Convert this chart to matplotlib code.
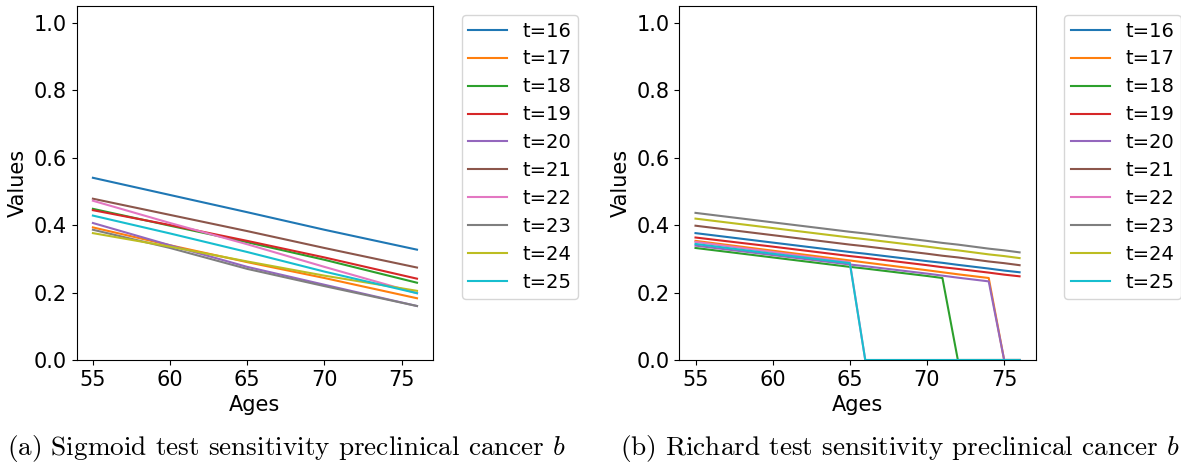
import matplotlib
matplotlib.use("Agg")
import matplotlib.pyplot as plt

plt.rcParams["mathtext.fontset"] = "cm"

# Series labels (screening time t)
t_labels = ["t=16", "t=17", "t=18", "t=19", "t=20",
            "t=21", "t=22", "t=23", "t=24", "t=25"]

# (a) Sigmoid sensitivity, read at these ages
ages_sig = [55, 60, 65, 70, 76]
sig_t16 = [0.540, 0.489, 0.438, 0.386, 0.327]
sig_t17 = [0.393, 0.340, 0.290, 0.243, 0.183]
sig_t18 = [0.448, 0.398, 0.349, 0.297, 0.229]
sig_t19 = [0.444, 0.400, 0.353, 0.304, 0.241]
sig_t20 = [0.406, 0.340, 0.276, 0.223, 0.160]
sig_t21 = [0.478, 0.430, 0.382, 0.332, 0.274]
sig_t22 = [0.472, 0.406, 0.343, 0.276, 0.198]
sig_t23 = [0.386, 0.332, 0.270, 0.219, 0.160]
sig_t24 = [0.376, 0.336, 0.292, 0.250, 0.205]
sig_t25 = [0.428, 0.375, 0.320, 0.262, 0.198]

# (b) Richard sensitivity, read at these ages
ages_rich = [55, 60, 65, 66, 70, 71, 72, 74, 75, 76]
rich_t16 = [0.376, 0.348, 0.320, 0.315, 0.293, 0.288, 0.282, 0.271, 0.265, 0.260]
rich_t17 = [0.353, 0.324, 0.295, 0.289, 0.266, 0.260, 0.254, 0.243, 0.0, 0.0]
rich_t18 = [0.332, 0.304, 0.276, 0.271, 0.249, 0.243, 0.0, 0.0, 0.0, 0.0]
rich_t19 = [0.363, 0.336, 0.308, 0.303, 0.281, 0.275, 0.270, 0.259, 0.253, 0.248]
rich_t20 = [0.339, 0.311, 0.283, 0.278, 0.256, 0.250, 0.244, 0.233, 0.0, 0.0]
rich_t21 = [0.398, 0.370, 0.342, 0.337, 0.315, 0.309, 0.304, 0.292, 0.287, 0.281]
rich_t22 = [0.350, 0.320, 0.290, 0.0, 0.0, 0.0, 0.0, 0.0, 0.0, 0.0]
rich_t23 = [0.436, 0.408, 0.380, 0.375, 0.353, 0.347, 0.342, 0.330, 0.325, 0.319]
rich_t24 = [0.419, 0.391, 0.363, 0.358, 0.336, 0.330, 0.325, 0.313, 0.308, 0.302]
rich_t25 = [0.344, 0.315, 0.287, 0.0, 0.0, 0.0, 0.0, 0.0, 0.0, 0.0]

sigmoid_series = [sig_t16, sig_t17, sig_t18, sig_t19, sig_t20,
                  sig_t21, sig_t22, sig_t23, sig_t24, sig_t25]
richard_series = [rich_t16, rich_t17, rich_t18, rich_t19, rich_t20,
                  rich_t21, rich_t22, rich_t23, rich_t24, rich_t25]

captions = [r"(a) Sigmoid test sensitivity preclinical cancer $b$",
            r"(b) Richard test sensitivity preclinical cancer $b$"]

W, H = 1181, 468
fig = plt.figure(figsize=(W / 100, H / 100), dpi=100)

ax_w, ax_h = 356.5 / W, 354.3 / H
ax_bottom = (H - 360) / H
ax_a = fig.add_axes([76.7 / W, ax_bottom, ax_w, ax_h])
ax_b = fig.add_axes([679.3 / W, ax_bottom, ax_w, ax_h])

panels = [(ax_a, ages_sig, sigmoid_series), (ax_b, ages_rich, richard_series)]
for ax, ages, series in panels:
    for lab, vals in zip(t_labels, series):
        ax.plot(ages, vals, label=lab, linewidth=1.5)
    ax.set_ylim(0, 1.05)
    ax.set_xticks([55, 60, 65, 70, 75])
    ax.set_yticks([0.0, 0.2, 0.4, 0.6, 0.8, 1.0])
    ax.tick_params(labelsize=15)
    ax.set_xlabel("Ages", fontsize=15, labelpad=4)
    ax.set_ylabel("Values", fontsize=15)
    ax.legend(loc="upper left", bbox_to_anchor=(1.08, 0.974),
              borderaxespad=0, fontsize=14, labelspacing=0.46,
              borderpad=0.34)

fig.text(287 / W, 1 - 448 / H, captions[0], family="cmr10",
         fontsize=19.6, ha="center", va="center")
fig.text(900 / W, 1 - 448 / H, captions[1], family="cmr10",
         fontsize=19.6, ha="center", va="center")

fig.savefig("out.png", dpi=100)
